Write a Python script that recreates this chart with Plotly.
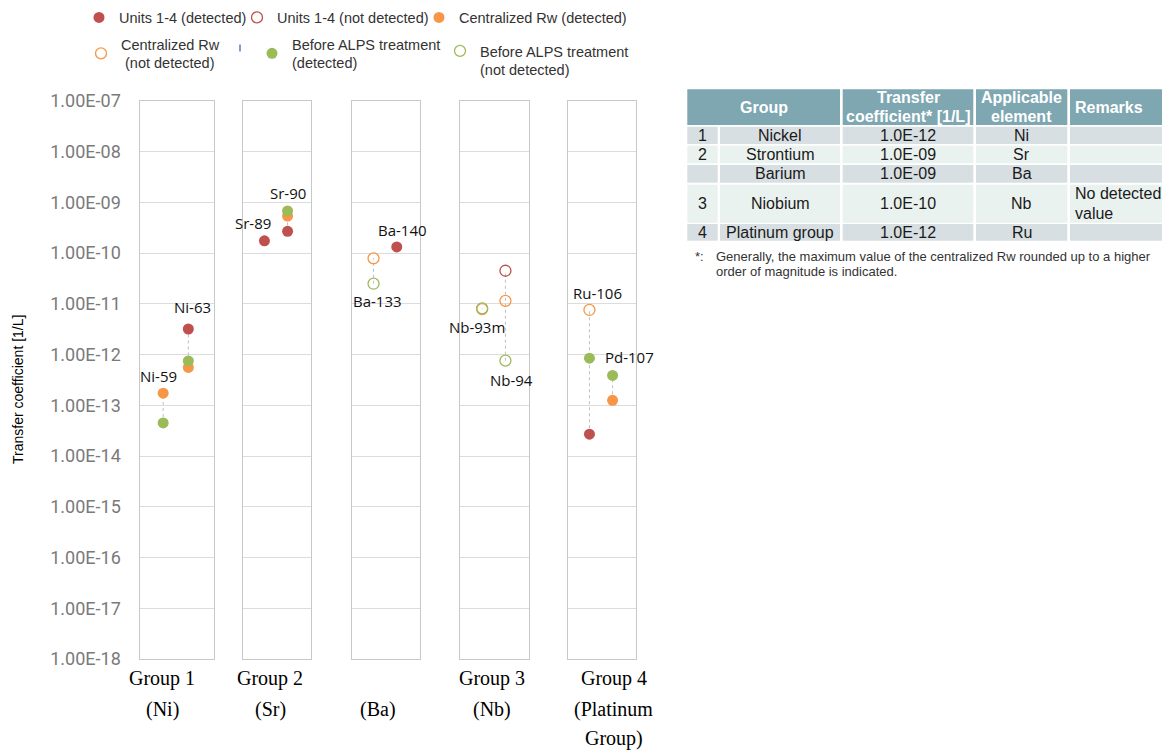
import math
import plotly.graph_objects as go
from plotly.subplots import make_subplots

# ---------------- data ----------------
panel_labels = [["Group 1", "(Ni)"], ["Group 2", "(Sr)"], ["", "(Ba)"],
                ["Group 3", "(Nb)"], ["Group 4", "(Platinum", "Group)"]]
nuclides = ["Ni-59", "Ni-63", "Sr-89", "Sr-90", "Ba-133", "Ba-140",
            "Nb-93m", "Nb-94", "Ru-106", "Pd-107"]
nuclide_panel = [0, 0, 1, 1, 2, 2, 3, 3, 4, 4]

units_detected       = [None, 3.2e-12, 1.75e-10, 2.7e-10, None, 1.33e-10, None, None, 2.7e-14, None]
units_not_detected   = [None, None, None, None, None, None, None, 4.5e-11, None, None]
central_detected     = [1.74e-13, 5.6e-13, None, 5.4e-10, None, None, None, None, None, 1.26e-13]
central_not_detected = [None, None, None, None, 7.9e-11, None, 7.9e-12, 1.15e-11, 7.6e-12, None]
alps_detected        = [4.5e-14, 7.5e-13, None, 6.8e-10, None, None, None, None, 8.5e-13, 3.9e-13]
alps_not_detected    = [None, None, None, None, 2.5e-11, None, 8.2e-12, 7.6e-13, None, None]

series_names = ["Units 1-4 (detected)", "Units 1-4 (not detected)",
                "Centralized Rw (detected)", "Centralized Rw<br> (not detected)",
                "Before ALPS treatment<br>(detected)", "Before ALPS treatment<br>(not detected)"]
series_values = [units_detected, units_not_detected, central_detected,
                 central_not_detected, alps_detected, alps_not_detected]

y_tick_labels = ["1.00E-18", "1.00E-17", "1.00E-16", "1.00E-15", "1.00E-14", "1.00E-13",
                 "1.00E-12", "1.00E-11", "1.00E-10", "1.00E-09", "1.00E-08", "1.00E-07"]
y_title = "Transfer coefficient [1/L]"

table_header = ["Group", "Transfer\ncoefficient* [1/L]", "Applicable\nelement", "Remarks"]
table_no = ["1", "2", "", "3", "4"]
table_group = ["Nickel", "Strontium", "Barium", "Niobium", "Platinum group"]
table_coef = ["1.0E-12", "1.0E-09", "1.0E-09", "1.0E-10", "1.0E-12"]
table_element = ["Ni", "Sr", "Ba", "Nb", "Ru"]
table_remarks = ["", "", "", "No detected\nvalue", ""]
footnote_mark = "*:"
footnote_lines = ["Generally, the maximum value of the centralized Rw rounded up to a higher",
                  "order of magnitude is indicated."]

# ---------------- style / layout ----------------
PAGE_OFF = 8                      # default page body margin
W, H = 1170 - PAGE_OFF, 751 - PAGE_OFF
def px(x): return (x - PAGE_OFF) / W
def py(y): return 1 - (y - PAGE_OFF) / H

RED, ORANGE, GREEN = "#C0504D", "#F79646", "#9BBB59"
series_style = [
    dict(color=RED, symbol="circle", legend="legend"),
    dict(color=RED, symbol="circle-open", legend="legend2"),
    dict(color=ORANGE, symbol="circle", legend="legend3"),
    dict(color=ORANGE, symbol="circle-open", legend="legend4"),
    dict(color=GREEN, symbol="circle", legend="legend6"),
    dict(color=GREEN, symbol="circle-open", legend="legend7"),
]
panel_px = [(139.5, 213.5), (242.7, 310.7), (351.7, 420.0), (460.3, 528.7), (567.7, 635.7)]
plot_top, plot_bottom = 101, 659
x_range = [-0.94, 2.0]

label_style = {  # nuclide: (anchor series, xshift px, yshift px)
    "Ni-59": (2, -5, 17.6), "Ni-63": (0, 4.6, 21.7), "Sr-89": (0, -11.3, 18.3),
    "Sr-90": (4, 0.6, 18.3), "Ba-133": (5, 4.4, -17.7), "Ba-140": (0, 6, 17),
    "Nb-93m": (5, -5.6, -18.4), "Nb-94": (5, 5.7, -19.3), "Ru-106": (3, 8, 16.7),
    "Pd-107": (4, 16.6, 18),
}
group_label_x = [162.3, 270, 378, 492, 614]
group_label_y = [678, 709.5, 738.5]

fig = make_subplots(rows=1, cols=5, shared_yaxes=True, horizontal_spacing=0.01)

# local index of each nuclide within its panel
local_idx = []
count = {}
for p in nuclide_panel:
    local_idx.append(count.get(p, 0))
    count[p] = count.get(p, 0) + 1

# dotted connector lines
for i, name in enumerate(nuclides):
    vals = [s[i] for s in series_values if s[i] is not None]
    if len(vals) >= 2:
        fig.add_trace(go.Scatter(x=[local_idx[i], local_idx[i]], y=[min(vals), max(vals)],
                                 mode="lines", line=dict(color="#BFBFBF", width=1, dash="dot"),
                                 showlegend=False, hoverinfo="skip"),
                      row=1, col=nuclide_panel[i] + 1)

# series markers
for k, (vals, st) in enumerate(zip(series_values, series_style)):
    shown = False
    for p in range(5):
        sel = [i for i in range(len(nuclides)) if nuclide_panel[i] == p and vals[i] is not None]
        if not sel:
            continue
        open_ = "open" in st["symbol"]
        fig.add_trace(go.Scatter(
            x=[local_idx[i] for i in sel], y=[vals[i] for i in sel],
            text=[nuclides[i] for i in sel], mode="markers", name=series_names[k],
            marker=dict(symbol=st["symbol"], size=11, color=st["color"],
                        line=dict(width=1.3 if open_ else 0, color=st["color"])),
            legendgroup=series_names[k], legend=st["legend"], showlegend=not shown),
            row=1, col=p + 1)
        shown = True

# the stray blank legend entry
fig.add_trace(go.Scatter(x=[None], y=[None], mode="markers", name="",
                         marker=dict(symbol="line-ns-open", size=5, color="#4F81BD",
                                     line=dict(width=1.5, color="#4F81BD")),
                         legend="legend5", showlegend=True), row=1, col=1)

# axes
ydom = [py(plot_bottom), py(plot_top)]
for p in range(5):
    xa = "xaxis" if p == 0 else f"xaxis{p+1}"
    ya = "yaxis" if p == 0 else f"yaxis{p+1}"
    fig.update_layout(**{
        xa: dict(domain=[px(panel_px[p][0]), px(panel_px[p][1])], range=x_range,
                 showgrid=False, zeroline=False, showticklabels=False, ticks="",
                 showline=True, mirror=True, linecolor="#C8C8C8", linewidth=1.2,
                 automargin=False, fixedrange=True),
        ya: dict(domain=ydom, type="log", range=[-18, -7],
                 tickvals=[float(t) for t in y_tick_labels], ticktext=y_tick_labels,
                 showgrid=True, gridcolor="#DCDCDC", gridwidth=1, zeroline=False,
                 showline=True, mirror=True, linecolor="#C8C8C8", linewidth=1.2,
                 showticklabels=(p == 0), ticks="", ticklabelstandoff=14,
                 tickfont=dict(family="Roboto", size=18, color="#7A7A7A"),
                 automargin=False, fixedrange=True),
    })

ann = []
# data labels
for i, name in enumerate(nuclides):
    s_idx, dx, dy = label_style[name]
    v = series_values[s_idx][i]
    p = nuclide_panel[i]
    ann.append(dict(x=local_idx[i], y=math.log10(v), xref="x" if p == 0 else f"x{p+1}",
                    yref="y" if p == 0 else f"y{p+1}", text=name, showarrow=False,
                    xshift=dx, yshift=dy, xanchor="center", yanchor="middle",
                    font=dict(family="Open Sans", size=15, color="#111111")))
# group labels below panels
for p, lines in enumerate(panel_labels):
    for j, line in enumerate(lines):
        if line:
            ann.append(dict(x=px(group_label_x[p]), y=py(group_label_y[j]), xref="paper", yref="paper",
                            text=line, showarrow=False, xanchor="center", yanchor="middle",
                            font=dict(family="Liberation Serif", size=20, color="#000000")))
# y title
ann.append(dict(x=px(18), y=py(390), xref="paper", yref="paper", text=y_title, textangle=-90,
                showarrow=False, xanchor="center", yanchor="middle",
                font=dict(family="Liberation Sans", size=14, color="#000000")))

# ---- table ----
col_edges = [(687.3, 717.7), (720, 840), (842.7, 973.3), (976, 1067.3), (1070, 1175)]
row_edges = [(89.3, 125), (126.7, 144), (145.7, 163.3), (165, 182.7), (184.7, 222.7), (224, 240.7)]
HEAD, DARK, LIGHT = "#7EA7B1", "#D8DFE2", "#EAF2EF"
shapes = []
def cell(x0, x1, y0, y1, fill):
    shapes.append(dict(type="rect", xref="paper", yref="paper", x0=px(x0), x1=px(x1),
                       y0=py(y1), y1=py(y0), fillcolor=fill, line=dict(width=0), layer="below"))
hy0, hy1 = row_edges[0]
cell(col_edges[0][0], col_edges[1][1], hy0, hy1, HEAD)
for c in range(2, 5):
    cell(col_edges[c][0], col_edges[c][1], hy0, hy1, HEAD)
for r in range(1, 6):
    for c in range(5):
        cell(col_edges[c][0], col_edges[c][1], row_edges[r][0], row_edges[r][1],
             DARK if r % 2 == 1 else LIGHT)

tfont = dict(family="Liberation Sans", size=16, color="#1A1A1A")
hfont = dict(family="Liberation Sans", size=16, color="#FFFFFF", weight="bold")
def text_at(x, y, t, font, xanchor="center"):
    ann.append(dict(x=px(x), y=py(y), xref="paper", yref="paper", text=t, showarrow=False,
                    xanchor=xanchor, yanchor="middle", font=font))
hc = (hy0 + hy1) / 2
head_x = [((col_edges[0][0] + col_edges[1][1]) / 2, "center"),
          ((col_edges[2][0] + col_edges[2][1]) / 2, "center"),
          ((col_edges[3][0] + col_edges[3][1]) / 2, "center"),
          (col_edges[4][0] + 3, "left")]
for (x, anc), t in zip(head_x, table_header):
    lines = t.split("\n")
    for j, line in enumerate(lines):
        y = hc + (j - (len(lines) - 1) / 2) * 18.5
        text_at(x, y, f"<b>{line}</b>", hfont, anc)
body_cols = [table_no, table_group, table_coef, table_element, table_remarks]
for r in range(5):
    yc = (row_edges[r + 1][0] + row_edges[r + 1][1]) / 2
    for c, col in enumerate(body_cols):
        t = col[r]
        if not t:
            continue
        lines = t.split("\n")
        for j, line in enumerate(lines):
            y = yc + (j - (len(lines) - 1) / 2) * 20
            if c == 4:
                text_at(col_edges[c][0] + 3, y, line, tfont, "left")
            else:
                text_at((col_edges[c][0] + col_edges[c][1]) / 2, y, line, tfont)
ffont = dict(family="Liberation Sans", size=13, color="#333333")
text_at(693, 256.7, footnote_mark, ffont, "left")
for j, line in enumerate(footnote_lines):
    text_at(714, 256.7 + 15 * j, line, ffont, "left")

# ---- legends ----
legend_pos = {  # text-start x, center y, valign
    "legend": (119, 17.5, "middle"), "legend2": (277, 17.5, "middle"),
    "legend3": (459, 17.5, "middle"), "legend4": (121, 53.5, "middle"),
    "legend5": (260, 48, "middle"), "legend6": (292, 53.5, "middle"),
    "legend7": (480, 60.5, "top"),
}
lfont = dict(family="Liberation Sans", size=14.5, color="#333333")
legends = {}
for key, (tx, cy, va) in legend_pos.items():
    legends[key] = dict(x=px(tx - 40), xanchor="left", y=py(cy), yanchor="middle",
                        bgcolor="rgba(0,0,0,0)", borderwidth=0, font=lfont, valign=va,
                        itemclick=False, itemdoubleclick=False)

fig.update_layout(width=W, height=H, margin=dict(l=0, r=0, t=0, b=0, pad=0, autoexpand=False),
                  plot_bgcolor="white", paper_bgcolor="white",
                  annotations=ann, shapes=shapes, **legends)

fig.write_html("out.html")
